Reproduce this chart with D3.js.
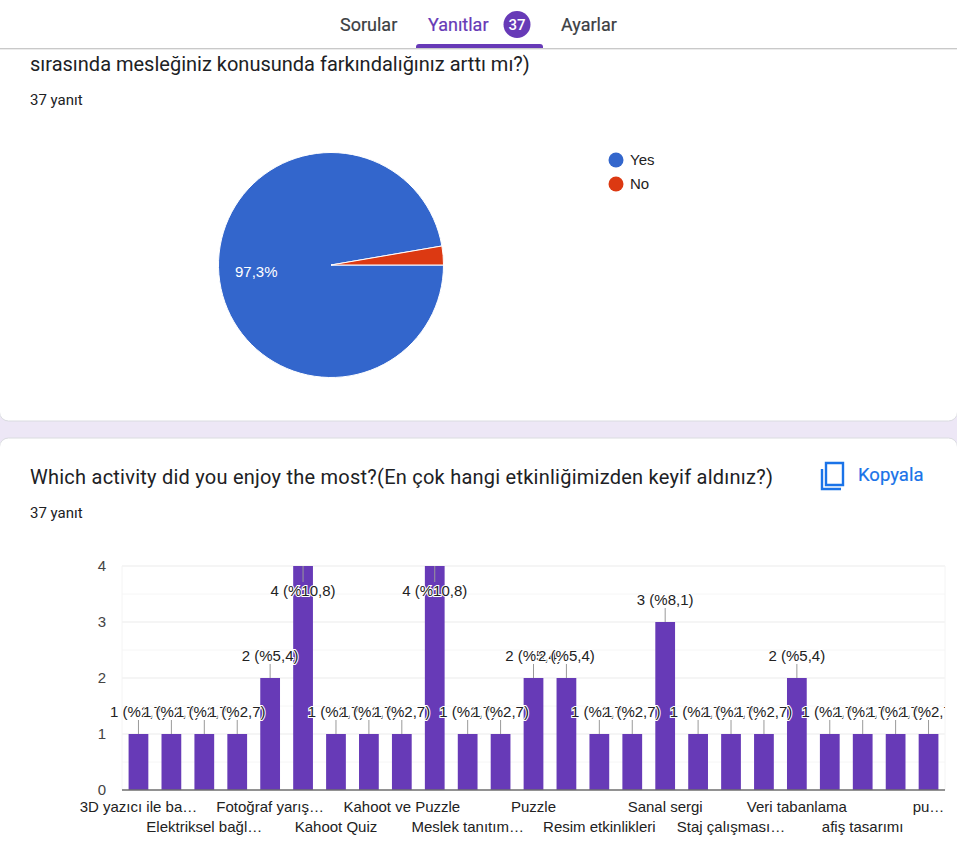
<!DOCTYPE html>
<html>
<head>
<meta charset="utf-8">
<script src="https://cdnjs.cloudflare.com/ajax/libs/d3/7.8.5/d3.min.js"></script>
<style>
html, body { margin: 0; padding: 0; background: #fff; overflow: hidden; }
svg { display: block; }
.ui { font-family: Roboto, sans-serif; }
.chart { font-family: "Liberation Sans", Arial, sans-serif; }
</style>
</head>
<body>
<svg id="page" width="957" height="849"></svg>
<script>
const tabs = ["Sorular", "Yanıtlar", "Ayarlar"];
const responseCount = "37";
const pieLabels = ["Yes", "No"];
const pieValues = [36, 1];
const pieColors = ["#3366cc", "#dc3912"];

// only every other category name is readable in the picture
const categories = [
    "3D yazıcı ile ba…", "", "Elektriksel bağl…", "", "Fotoğraf yarış…", "", "Kahoot Quiz", "",
    "Kahoot ve Puzzle", "", "Meslek tanıtım…", "", "Puzzle", "", "Resim etkinlikleri", "",
    "Sanal sergi", "", "Staj çalışması…", "", "Veri tabanlama", "", "afiş tasarımı", "", "pu…"
];
const values = [1, 1, 1, 1, 2, 4, 1, 1, 1, 4, 1, 1, 2, 2, 1, 1, 3, 1, 1, 1, 2, 1, 1, 1, 1];
const percents = ["2,7", "2,7", "2,7", "2,7", "5,4", "10,8", "2,7", "2,7", "2,7", "10,8", "2,7", "2,7",
    "5,4", "5,4", "2,7", "2,7", "8,1", "2,7", "2,7", "2,7", "5,4", "2,7", "2,7", "2,7", "2,7"];
const yTicks = [0, 1, 2, 3, 4];
const yMinorTicks = [0.5, 1.5, 2.5, 3.5];

const svg = d3.select("#page");
const purple = "#673ab7";
const textColor = "#202124";

// page background and cards
svg.append("rect").attr("width", 957).attr("height", 849).attr("fill", "#ede7f6");
svg.append("rect").attr("x", -0.5).attr("y", 20).attr("width", 958).attr("height", 401).attr("rx", 9)
    .attr("fill", "#fff").attr("stroke", "#dadce0");
svg.append("rect").attr("x", -0.5).attr("y", 438).attr("width", 958).attr("height", 440).attr("rx", 9)
    .attr("fill", "#fff").attr("stroke", "#dadce0");

// first card
const ui = svg.append("g").attr("class", "ui");
ui.append("text").attr("x", 30).attr("y", 71).attr("font-size", 20).attr("fill", textColor)
    .text("sırasında mesleğiniz konusunda farkındalığınız arttı mı?)");
ui.append("text").attr("x", 30).attr("y", 105).attr("font-size", 15).attr("fill", textColor).text("37 yanıt");

// header on top of the scrolled card
const header = svg.append("g").attr("class", "ui");
header.append("rect").attr("width", 957).attr("height", 48).attr("fill", "#fff");
header.append("rect").attr("y", 48).attr("width", 957).attr("height", 1).attr("fill", "#c9c9c9");
header.append("rect").attr("y", 49).attr("width", 957).attr("height", 1).attr("fill", "#ececec");
const tabX = [340, 428, 561];
header.selectAll("text.tab").data(tabs).join("text")
    .attr("class", "tab")
    .attr("x", (d, i) => tabX[i])
    .attr("y", 31)
    .attr("font-size", 18)
    .attr("font-weight", 400)
    .attr("fill", (d, i) => i === 1 ? purple : "#3c4043")
    .attr("stroke", (d, i) => i === 1 ? purple : "#3c4043")
    .attr("stroke-width", 0.2)
    .text(d => d);
header.append("circle").attr("cx", 517).attr("cy", 24.5).attr("r", 13.5).attr("fill", purple);
header.append("text").attr("x", 517).attr("y", 30).attr("text-anchor", "middle")
    .attr("font-size", 15).attr("font-weight", 500).attr("fill", "#fff").text(responseCount);
header.append("path").attr("d", "M416,48v-1a3,3 0 0 1 3,-3h121a3,3 0 0 1 3,3v1z").attr("fill", purple);

// pie
const pie = d3.pie().sort(null).startAngle(Math.PI / 2).endAngle(Math.PI / 2 + 2 * Math.PI);
const arc = d3.arc().innerRadius(0).outerRadius(112.5);
const pieG = svg.append("g").attr("class", "chart").attr("transform", "translate(331,265)");
pieG.selectAll("path").data(pie(pieValues)).join("path")
    .attr("d", arc)
    .attr("fill", (d, i) => pieColors[i])
    .attr("stroke", "#fff")
    .attr("stroke-width", 1);
pieG.append("text").attr("x", -96).attr("y", 12).attr("font-size", 15).attr("fill", "#fff").text("97,3%");

const legend = svg.append("g").attr("class", "chart").selectAll("g").data(pieLabels).join("g")
    .attr("transform", (d, i) => `translate(616,${160 + i * 24})`);
legend.append("circle").attr("r", 7.5).attr("fill", (d, i) => pieColors[i]);
legend.append("text").attr("x", 14).attr("y", 5).attr("font-size", 15).attr("fill", "#222").text(d => d);

// second card
ui.clone(false).call(g => {
    g.append("text").attr("x", 30).attr("y", 484).attr("font-size", 20).attr("letter-spacing", 0.24).attr("fill", textColor)
        .text("Which activity did you enjoy the most?(En çok hangi etkinliğimizden keyif aldınız?)");
    g.append("text").attr("x", 30).attr("y", 518).attr("font-size", 15).attr("fill", textColor).text("37 yanıt");
    g.append("text").attr("x", 858).attr("y", 481).attr("font-size", 18.5).attr("font-weight", 400)
        .attr("fill", "#1a73e8").attr("stroke", "#1a73e8").attr("stroke-width", 0.2).text("Kopyala");
    g.append("path")
        .attr("d", "M822,469v20h19 M826,463h17v22h-17z")
        .attr("fill", "none").attr("stroke", "#1a73e8").attr("stroke-width", 2.4);
});

// bar chart
const x = d3.scaleBand().domain(d3.range(categories.length)).range([122, 945]).paddingInner(0.4).paddingOuter(0.2);
const y = d3.scaleLinear().domain([0, 4]).range([790, 566]);
const chart = svg.append("g").attr("class", "chart");

svg.append("clipPath").attr("id", "plot-clip").append("rect")
    .attr("x", 0).attr("y", 0).attr("width", 945).attr("height", 849);

chart.selectAll("line.minor").data(yMinorTicks).join("line")
    .attr("class", "minor")
    .attr("x1", 122).attr("x2", 945)
    .attr("y1", d => y(d)).attr("y2", d => y(d))
    .attr("stroke", "#f6f6f6");
chart.selectAll("line.major").data(yTicks.slice(1)).join("line")
    .attr("class", "major")
    .attr("x1", 122).attr("x2", 945)
    .attr("y1", d => y(d)).attr("y2", d => y(d))
    .attr("stroke", "#ebebeb");
chart.append("line").attr("x1", 122).attr("x2", 122).attr("y1", 566).attr("y2", 790).attr("stroke", "#f4f4f4");
chart.append("line").attr("x1", 945).attr("x2", 945).attr("y1", 566).attr("y2", 790).attr("stroke", "#f4f4f4");

chart.selectAll("text.ytick").data(yTicks).join("text")
    .attr("class", "ytick")
    .attr("x", 106)
    .attr("y", d => y(d) + 5)
    .attr("text-anchor", "end")
    .attr("font-size", 15)
    .attr("fill", "#444")
    .text(d => d);

chart.selectAll("rect.bar").data(values).join("rect")
    .attr("class", "bar")
    .attr("x", (d, i) => x(i))
    .attr("y", d => y(d))
    .attr("width", x.bandwidth())
    .attr("height", d => y(0) - y(d))
    .attr("fill", purple);

chart.append("line").attr("x1", 122).attr("x2", 945).attr("y1", 790).attr("y2", 790)
    .attr("stroke", "#6e6e6e").attr("stroke-width", 1.4);

// labels that would leave the plot get flipped down into the bar
const flipped = d => y(d) - 36 < y(4);
const cx = i => x(i) + x.bandwidth() / 2;

chart.selectAll("line.leader").data(values).join("line")
    .attr("class", "leader")
    .attr("x1", (d, i) => cx(i)).attr("x2", (d, i) => cx(i))
    .attr("y1", d => y(d))
    .attr("y2", d => flipped(d) ? y(d) + 16 : y(d) - 14)
    .attr("stroke", "#999");

chart.append("g").attr("clip-path", "url(#plot-clip)")
    .selectAll("text.value").data(values).join("text")
    .attr("class", "value")
    .attr("x", (d, i) => cx(i))
    .attr("y", d => flipped(d) ? y(d) + 29.5 : y(d) - 17)
    .attr("text-anchor", "middle")
    .attr("font-size", 15)
    .attr("fill", "#222")
    .attr("stroke", "#fff")
    .attr("stroke-width", 2)
    .attr("paint-order", "stroke")
    .text((d, i) => `${d} (%${percents[i]})`);

// x labels alternate between two rows
chart.selectAll("text.xlabel").data(categories).join("text")
    .attr("class", "xlabel")
    .attr("x", (d, i) => cx(i))
    .attr("y", (d, i) => i % 4 === 0 ? 812 : 832)
    .attr("text-anchor", "middle")
    .attr("font-size", 15)
    .attr("fill", "#222")
    .text(d => d);
</script>
</body>
</html>
